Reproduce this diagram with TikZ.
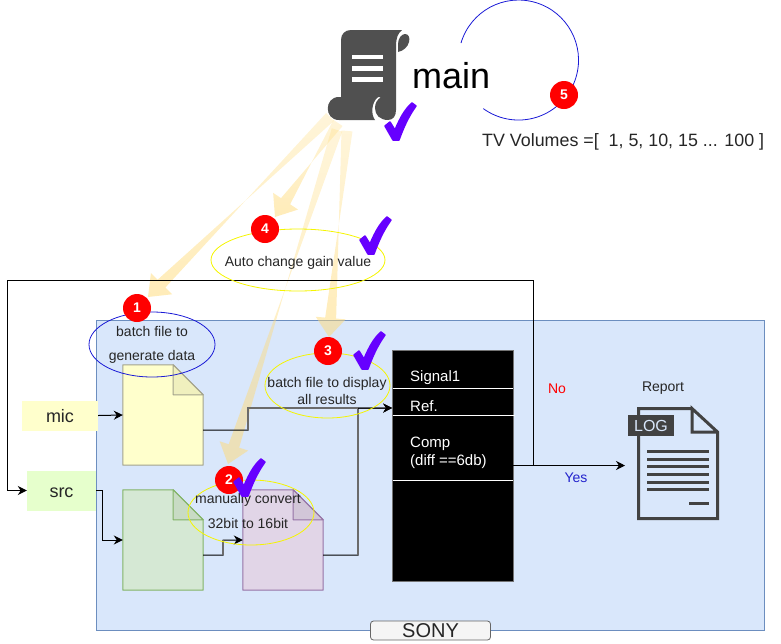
\documentclass[tikz,border=0pt]{standalone}
\usepackage{fontspec}
\setmainfont{Liberation Sans}
\usetikzlibrary{calc,arrows.meta,shapes.geometric,fadings}
\newcommand\fsz[1]{\fontsize{#1}{#1}\selectfont}
\definecolor{dark}{HTML}{505050}
\definecolor{logc}{HTML}{424242}
\definecolor{txt}{HTML}{262626}
\definecolor{tickc}{HTML}{6600FF}
\definecolor{bigc}{HTML}{FFDA77}
\definecolor{panelfill}{HTML}{D9E7FB}
\definecolor{paneldraw}{HTML}{6C8EBF}
\definecolor{micfill}{HTML}{FFFFCC}
\definecolor{srcfill}{HTML}{E6FFCC}
\definecolor{ydraw}{HTML}{A3A38C}
\definecolor{yfold}{HTML}{F0F0BE}
\definecolor{gfill}{HTML}{D5E8D4}
\definecolor{gdraw}{HTML}{82B366}
\definecolor{gfold}{HTML}{C8DBC4}
\definecolor{pfill}{HTML}{E1D5E7}
\definecolor{pdraw}{HTML}{9673A6}
\definecolor{pfold}{HTML}{D2C6D8}
\definecolor{ringy}{HTML}{F5F500}
\definecolor{ringb}{HTML}{1A1AD6}
\definecolor{yesc}{HTML}{2222CC}
\tikzfading[name=bigfade,top color=transparent!72,bottom color=transparent!48]
\tikzset{
  conn/.style={black,line width=1pt,-{Stealth[length=9pt,width=9pt]}},
  greyseg/.style={draw=black!58,line width=1.3pt},
  lab/.style={inner sep=0pt,text=txt,font=\fsz{14},anchor=base},
  whitelab/.style={inner sep=0pt,text=white,font=\fsz{15},anchor=base west},
  badge/.style={circle,fill=red,inner sep=0pt,minimum size=28pt,text=white,font=\fsz{14}\bfseries},
  doc/.style={rectangle,inner sep=0pt,minimum width=80pt,minimum height=100pt},
  yring/.style={ellipse,draw=ringy,line width=0.8pt,inner sep=0pt},
  srcbox/.style={rectangle,inner sep=0pt,font=\fsz{18},text=txt,text height=13pt,text depth=0pt},
  logline/.style={draw=logc,line width=3pt},
}
\newcommand\docshape[6]{%
  \node[doc] (#1) at (#2,#3) {};
  \draw[fill=#4,draw=#5,line width=1pt,line join=round]
    (#1.north west) -- ($(#1.north east)+(-30,0)$) -- ($(#1.north east)+(0,30)$) -- (#1.south east) -- (#1.south west) -- cycle;
  \draw[fill=#6,draw=#5,line width=1pt,line join=round]
    ($(#1.north east)+(-30,0)$) -- ($(#1.north east)+(0,30)$) -- ($(#1.north east)+(-30,30)$) -- cycle;
}
\newcommand\bigarrow[2]{%
  \fill[bigc,path fading=bigfade]
    ($(#1)!5.5pt!90:(#2)$) --
    ($($(#2)!19pt!(#1)$)!5.5pt!-90:(#2)$) --
    ($($(#2)!19pt!(#1)$)!15pt!-90:(#2)$) --
    (#2) --
    ($($(#2)!19pt!(#1)$)!15pt!90:(#2)$) --
    ($($(#2)!19pt!(#1)$)!5.5pt!90:(#2)$) --
    ($(#1)!5.5pt!-90:(#2)$) -- cycle;
}
\newcommand\tickmark[2]{%
  \begin{scope}[shift={(#1,#2)}]
    \fill[tickc,draw=tickc,line width=1.5pt,line join=round]
      (-11,-13) -- (-6,-17) -- (-1,-9)
      .. controls (4,-21) and (9,-30) .. (16,-36)
      -- (20,-33)
      .. controls (12,-22) and (7,-10) .. (3,1) -- (-3,1) -- cycle;
  \end{scope}
}
\begin{document}
\begin{tikzpicture}[x=1pt,y=-1pt]
\useasboundingbox (0,0) rectangle (781,643);
% panel
\node[rectangle,draw=paneldraw,fill=panelfill,line width=1pt,inner sep=0pt,minimum width=668pt,minimum height=310pt] (panel) at (430,475.5) {};
% big arrows
\coordinate (s1) at (330,117);
\coordinate (s2) at (337,130);
\coordinate (s3) at (347,131);
\coordinate (s4) at (338,123);
\coordinate (t1) at (148,297);
\coordinate (t2) at (228,464);
\coordinate (t3) at (329,337);
\coordinate (t4) at (275,217);
\bigarrow{s1}{t1}
\bigarrow{s2}{t2}
\bigarrow{s3}{t3}
\bigarrow{s4}{t4}
% source boxes
\node[srcbox,fill=micfill,minimum width=76pt,minimum height=30pt] (mic) at (60,415.5) {mic};
\node[srcbox,fill=srcfill,minimum width=69pt,minimum height=40pt] (src) at (61.5,490.5) {src};
% documents
\docshape{ydoc}{163}{415}{micfill}{ydraw}{yfold}
\docshape{gdoc}{163}{540}{gfill}{gdraw}{gfold}
\docshape{pdoc}{283}{540}{pfill}{pdraw}{pfold}
% black column
\node[rectangle,fill=black,draw=black!55,line width=.6pt,inner sep=0pt,minimum width=120.5pt,minimum height=231pt] (sig) at (452.75,465.5) {};
\draw[white,line width=1pt] (392.5,388) -- (513,388);
\draw[white,line width=1pt] (392.5,415) -- (515,415);
\draw[white,line width=1pt] (392.5,480.5) -- (513,480.5);
\node[whitelab] (l1) at (410,381) {Signal1};
\node[whitelab] (l2) at (410,411) {Ref.};
\node[whitelab] (l3) at (410,447) {Comp};
\node[whitelab] (l4) at (410,465) {(diff ==6db)};
% connectors
\coordinate (refin) at (sig.west |- 0,408);
\coordinate (yout) at ($(ydoc.south east)+(0,-35)$);
\coordinate (pout) at ($(pdoc.south east)+(0,-35)$);
\coordinate (gout) at ($(gdoc.south east)+(0,-35)$);
\coordinate (logln) at (625,465.5);
\draw[conn] (mic.east) -- (ydoc.west);
\draw[conn] (yout) -- (248,430) -- (248,408) -- (refin);
\draw[conn] (pout) -- (358,555) -- (358,408) -- (refin);
\draw[conn] (gout) -- (223,555) -- (223,540) -- (pdoc.west);
\draw[conn] (src.east) -- (102,490.5) -- (102,540) -- (gdoc.west);
\draw[conn] (sig.east) -- (logln);
\draw[conn] (533,465.5) -- (533,280.5) -- (7,280.5) -- (7,490.5) -- (src.west);
\draw[greyseg] (248,430) -- (248,408) -- (358,408);
\draw[greyseg] (358,555) -- (358,409);
\draw[greyseg] (223,555) -- (223,540);
% rings
\node[ellipse,draw=ringb,line width=.8pt,inner sep=0pt,minimum width=126pt,minimum height=65pt] (r1) at (152,344.5) {};
\node[yring,minimum width=126pt,minimum height=65pt] (r2) at (251,512.5) {};
\node[yring,minimum width=125pt,minimum height=65pt] (r3) at (327.5,385.5) {};
\node[yring,minimum width=174pt,minimum height=62pt] (r4) at (298,260) {};
% ring texts
\node[lab] (x1a) at (152,336) {batch file to};
\node[lab] (x1b) at (152,360) {generate data};
\node[lab] (x2a) at (248,503) {manually convert};
\node[lab] (x2b) at (248,528) {32bit to 16bit};
\node[lab] (x3a) at (327,387) {batch file to display};
\node[lab] (x3b) at (327,404) {all results};
\node[lab] (x4) at (298,266) {Auto change gain value};
% badges
\node[badge] (b1) at (137,308) {1};
\node[badge] (b2) at (229,480) {2};
\node[badge] (b3) at (328,351) {3};
\node[badge] (b4) at (265,229) {4};
% scroll icon
\fill[dark] (341,40) .. controls (341,34) and (345,30) .. (351,30) -- (402,30)
  .. controls (398,33) and (396,38) .. (396,46) -- (396,110)
  .. controls (396,116) and (393,120) .. (388,120)
  .. controls (380,120) and (375,115) .. (375,108)
  .. controls (375,103) and (377,100) .. (381,97) -- (341,97) -- cycle;
\fill[dark] (339,97) -- (378,97) .. controls (371,103) and (371,115) .. (375,120)
  -- (339,120) .. controls (324,120) and (324,97) .. (339,97) -- cycle;
\fill[dark] (398,52) -- (398,44) .. controls (398,38) and (402,34) .. (405,34)
  .. controls (409,34) and (410,38) .. (409,42)
  .. controls (408,47) and (403,51) .. (398,52) -- cycle;
\fill[white] (352,55) rectangle (383,59);
\fill[white] (352,66) rectangle (383,70.5);
\fill[white] (352,77) rectangle (383,81.5);
% main, volumes, loop
\node[inner sep=0pt,font=\fsz{36},text=black,anchor=base west] (mainlab) at (412,88) {main};
\draw[ringb,line width=.8pt] (461,43) arc[start angle=196.5,end angle=486,radius=60];
\node[badge] (b5) at (564,95) {5};
\node[inner sep=0pt,font=\fsz{17.85},text=txt,anchor=base west] (vols) at (482,146) {TV Volumes =[\ \ 1, 5, 10, 15 ... 100 ]};
% ticks
\tickmark{396}{139}
\tickmark{371}{253}
\tickmark{365}{368}
\tickmark{245}{495}
% side labels
\node[inner sep=0pt,font=\fsz{14},text=red,anchor=base] (no) at (557,393) {No};
\node[inner sep=0pt,font=\fsz{14},text=yesc,anchor=base] (yes) at (576,482) {Yes};
\node[lab] (rep) at (663,391) {Report};
% log icon
\draw[logline,line join=miter] (692,408.5) -- (638.5,408.5) -- (638.5,518.5) -- (717.5,518.5) -- (717.5,432) -- (692,408.5) -- (692,432) -- (717.5,432);
\node[rectangle,fill=logc,inner sep=0pt,minimum width=46pt,minimum height=21pt,text=panelfill,font=\fsz{16}] (logtag) at (651,425.5) {LOG};
\draw[logline] (647,451) -- (709,451);
\draw[logline] (647,459) -- (709,459);
\draw[logline] (647,466) -- (709,466);
\draw[logline] (647,474) -- (709,474);
\draw[logline] (647,482) -- (709,482);
\draw[logline] (647,489) -- (709,489);
\draw[logline] (689,503) -- (709,503);
% vendor tab
\node[rectangle,rounded corners=3pt,draw=black!60,fill=black!4,line width=.8pt,inner sep=0pt,minimum width=120pt,minimum height=19pt] (sony) at (430.5,630.5) {};
\node[inner sep=0pt,font=\fsz{20},text=txt,anchor=base] (sonyt) at (430.5,637) {SONY};
\end{tikzpicture}
\end{document}
